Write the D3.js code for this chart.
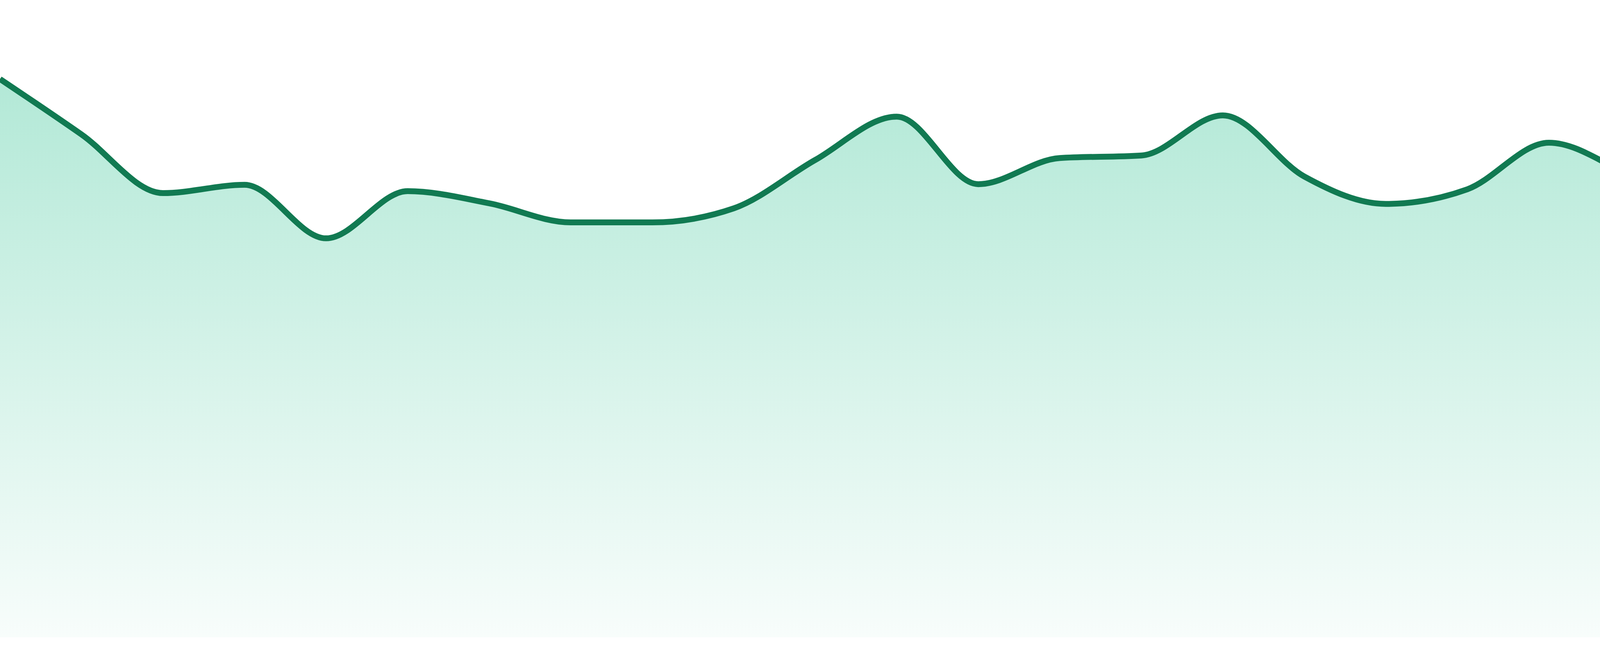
<!DOCTYPE html>
<html>
<head>
<meta charset="utf-8">
<style>
    html, body { margin: 0; padding: 0; background: #ffffff; overflow: hidden; }
    svg { display: block; }
</style>
<script src="https://cdn.jsdelivr.net/npm/d3@7"></script>
</head>
<body>
<div id="chart"></div>
<script>
// Series values (one per equally spaced step)
const seriesValues = [
    87.6, 78.9, 69.7, 71.0, 62.6, 70.0, 68.1, 65.1,
    65.1, 67.3, 74.9, 81.7, 71.1, 75.2, 75.6, 81.9,
    72.3, 68.0, 70.3, 77.6, 72.5, 66.7, 70.7, 66.7
];
const yDomain = [0, 100];

const width = 4800;
const height = 1680;
const plotBottom = 1632;

const x = d3.scaleLinear()
    .domain([0, seriesValues.length - 1])
    .range([0, width]);

const y = d3.scaleLinear()
    .domain(yDomain)
    .range([plotBottom, 0]);

const svg = d3.select('#chart')
    .append('svg')
    .attr('width', width)
    .attr('height', height);

// Vertical fade for the area fill
const gradient = svg.append('defs')
    .append('linearGradient')
    .attr('id', 'area-fill')
    .attr('gradientUnits', 'userSpaceOnUse')
    .attr('x1', 0)
    .attr('x2', 0)
    .attr('y1', y(d3.max(seriesValues)))
    .attr('y2', plotBottom);

gradient.append('stop')
    .attr('offset', '0%')
    .attr('stop-color', '#10b981')
    .attr('stop-opacity', 0.32);

gradient.append('stop')
    .attr('offset', '100%')
    .attr('stop-color', '#10b981')
    .attr('stop-opacity', 0.03);

const area = d3.area()
    .x((d, i) => x(i))
    .y0(plotBottom)
    .y1(d => y(d))
    .curve(d3.curveMonotoneX);

const line = d3.line()
    .x((d, i) => x(i))
    .y(d => y(d))
    .curve(d3.curveMonotoneX);

svg.append('path')
    .datum(seriesValues)
    .attr('d', area)
    .attr('fill', 'url(#area-fill)');

svg.append('path')
    .datum(seriesValues)
    .attr('d', line)
    .attr('fill', 'none')
    .attr('stroke', '#117a52')
    .attr('stroke-width', 15)
    .attr('stroke-linejoin', 'round');
</script>
</body>
</html>
